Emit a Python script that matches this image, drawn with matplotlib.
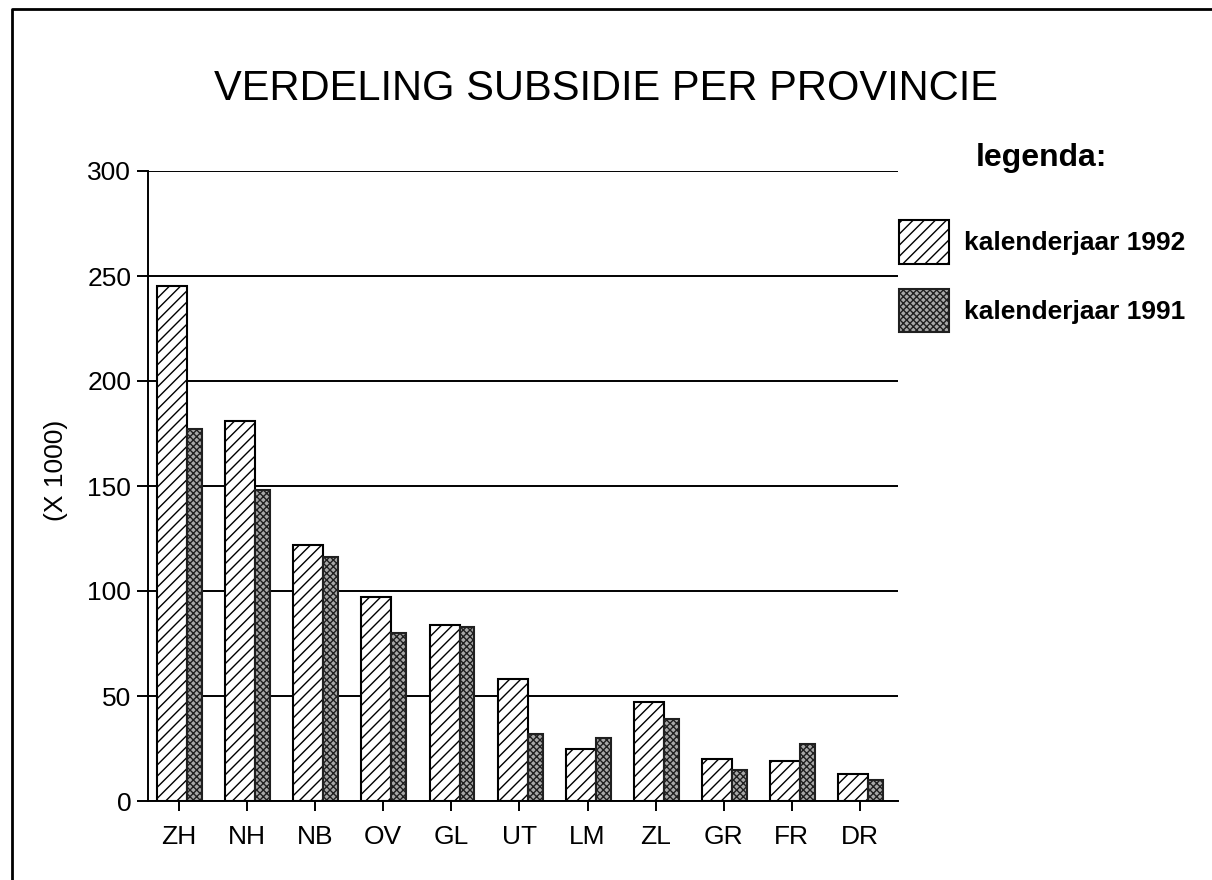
import numpy as np
import matplotlib.pyplot as plt
from matplotlib.lines import Line2D

plt.rcParams['font.family'] = ['Liberation Sans', 'DejaVu Sans']
plt.rcParams['hatch.linewidth'] = 1.0

# Données (x 1000)
provincies = ["ZH", "NH", "NB", "OV", "GL", "UT", "LM", "ZL", "GR", "FR", "DR"]
jaar_1992 = [245, 181, 122, 97, 84, 58, 25, 47, 20, 19, 13]
jaar_1991 = [177, 148, 116, 80, 83, 32, 30, 39, 15, 27, 10]
yticks = [0, 50, 100, 150, 200, 250, 300]

W, H = 1212, 880
fig = plt.figure(figsize=(W / 100, H / 100), dpi=100)

# axes : x de 148 à 898 px, y de 171 (300) à 801 (0)
ax = fig.add_axes([148 / W, (H - 801) / H, (898 - 148) / W, (801 - 171) / H])

x = np.arange(len(provincies))
ax.yaxis.grid(True, color='black', linewidth=1.4, zorder=0)
ax.set_axisbelow(True)

b92 = ax.bar(x - 0.32, jaar_1992, width=0.44, align='edge', facecolor='white',
             edgecolor='black', linewidth=1.5, hatch='///', label="kalenderjaar 1992", zorder=2)
b91 = ax.bar(x + 0.12, jaar_1991, width=0.22, align='edge', facecolor='#a8a8a8',
             edgecolor='#202020', linewidth=1.5, hatch='xxxxx', label="kalenderjaar 1991", zorder=2)

ax.set_xlim(-0.455, 10.56)
ax.set_ylim(0, 300)
ax.set_xticks(x)
ax.set_xticklabels(provincies, fontsize=19)
ax.set_yticks(yticks)
ax.tick_params(axis='y', labelsize=19, length=8, width=1.4, direction='out', pad=4)
ax.tick_params(axis='x', length=7, width=1.4, direction='out', pad=10)
for s in ['top', 'right']:
    ax.spines[s].set_visible(False)
ax.spines['left'].set_linewidth(1.4)
ax.spines['bottom'].set_linewidth(1.4)

ax.set_ylabel("(X 1000)", fontsize=19)
ax.yaxis.set_label_coords(-0.106, 0.525)

fig.text(0.5, 1 - 89 / H, "VERDELING SUBSIDIE PER PROVINCIE", fontsize=30,
         ha='center', va='center')

leg = fig.legend(handles=[b92, b91], loc='upper left', bbox_to_anchor=(899 / W, 1 - 143 / H),
                 frameon=False, borderpad=0, borderaxespad=0, fontsize=19,
                 handlelength=1.9, handleheight=2.15, handletextpad=0.55, labelspacing=0.95,
                 title="legenda:", title_fontproperties={'size': 23, 'weight': 'bold'})
for t in leg.get_texts():
    t.set_fontweight('bold')
leg._legend_box.sep = 34

# cadre autour de la figure
fig.add_artist(Line2D([12 / W, 12 / W, 1.0], [0.0, 1 - 9 / H, 1 - 9 / H],
                      color='black', linewidth=2, transform=fig.transFigure))

fig.savefig("out.png", dpi=100)
